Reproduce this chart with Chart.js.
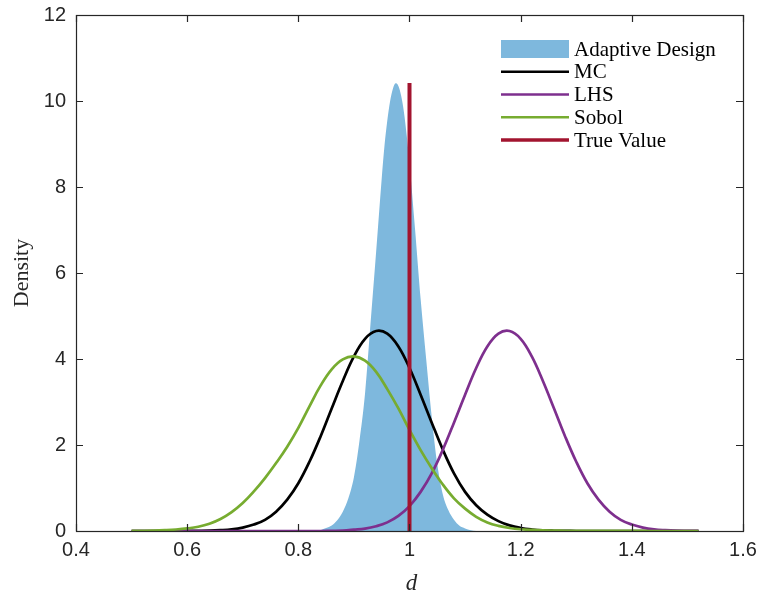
<!DOCTYPE html>
<html>
<head>
<meta charset="utf-8">
<script src="https://cdn.jsdelivr.net/npm/chart.js@4.4.1/dist/chart.umd.min.js"></script>
<style>
  html, body { margin: 0; padding: 0; background: #fff; }
  #wrap { width: 764px; height: 601px; }
</style>
</head>
<body>
<div id="wrap"><canvas id="chart" width="764" height="601"></canvas></div>
<script>
// density estimates of d, sampled on a shared grid
const dGrid = [0.50, 0.52, 0.54, 0.56, 0.58, 0.60, 0.62, 0.64, 0.66, 0.68,
               0.70, 0.72, 0.74, 0.76, 0.78, 0.80, 0.82, 0.84, 0.86, 0.88,
               0.90, 0.92, 0.94, 0.96, 0.98, 1.00, 1.02, 1.04, 1.06, 1.08,
               1.10, 1.12, 1.14, 1.16, 1.18, 1.20, 1.22, 1.24, 1.26, 1.28,
               1.30, 1.32, 1.34, 1.36, 1.38, 1.40, 1.42, 1.44, 1.46, 1.48,
               1.50, 1.52];

const mcDensity = [0, 0, 0, 0, 0.001, 0.002, 0.004, 0.008, 0.02, 0.04,
                   0.08, 0.15, 0.26, 0.45, 0.73, 1.11, 1.61, 2.20, 2.85, 3.49,
                   4.06, 4.47, 4.65, 4.59, 4.29, 3.79, 3.17, 2.52, 1.89, 1.34,
                   0.91, 0.60, 0.38, 0.23, 0.13, 0.07, 0.035, 0.015, 0.006, 0.002,
                   0, 0, 0, 0, 0, 0, 0, 0, 0, 0,
                   0, 0];

const lhsDensity = [0, 0, 0, 0, 0, 0, 0, 0, 0, 0,
                    0, 0, 0, 0, 0, 0, 0, 0, 0.005, 0.01,
                    0.03, 0.055, 0.11, 0.20, 0.35, 0.58, 0.91, 1.34, 1.89, 2.52,
                    3.17, 3.79, 4.29, 4.59, 4.65, 4.47, 4.06, 3.49, 2.85, 2.20,
                    1.61, 1.11, 0.73, 0.45, 0.26, 0.15, 0.08, 0.04, 0.02, 0.008,
                    0.004, 0.002];

const sobolDensity = [0.003, 0.005, 0.01, 0.02, 0.035, 0.06, 0.10, 0.17, 0.28, 0.44,
                      0.65, 0.92, 1.23, 1.58, 1.96, 2.40, 2.90, 3.38, 3.76, 3.99,
                      4.06, 3.96, 3.70, 3.30, 2.85, 2.35, 1.88, 1.46, 1.08, 0.76,
                      0.52, 0.33, 0.20, 0.12, 0.07, 0.04, 0.025, 0.015, 0.01, 0.006,
                      0.005, 0.004, 0.003, 0.002, 0.002, 0.001, 0.001, 0, 0, 0,
                      0, 0];

// adaptive design posterior, finer grid around the peak
const adaptiveGrid = [0.84, 0.85, 0.86, 0.87, 0.88, 0.89, 0.90, 0.91, 0.92, 0.93,
                      0.94, 0.95, 0.955, 0.96, 0.965, 0.97, 0.975, 0.98, 0.985, 0.99,
                      0.995, 1.00, 1.01, 1.02, 1.03, 1.04, 1.05, 1.06, 1.07, 1.08,
                      1.09, 1.10, 1.11, 1.12];
const adaptiveDensity = [0.02, 0.07, 0.13, 0.25, 0.45, 0.76, 1.25, 2.10, 3.20, 4.85,
                         6.50, 8.20, 8.96, 9.54, 9.99, 10.28, 10.41, 10.35, 10.12, 9.74,
                         9.20, 8.56, 7.02, 5.40, 4.00, 2.65, 1.55, 0.85, 0.48, 0.26,
                         0.12, 0.06, 0.02, 0];

const trueValue = 1.0;
const trueLineTop = 10.42;

const xTicks = [0.4, 0.6, 0.8, 1.0, 1.2, 1.4, 1.6];
const xTickLabels = ['0.4', '0.6', '0.8', '1', '1.2', '1.4', '1.6'];
const yTicks = [0, 2, 4, 6, 8, 10, 12];
const yTickLabels = ['0', '2', '4', '6', '8', '10', '12'];

const seriesNames = ['Adaptive Design', 'MC', 'LHS', 'Sobol', 'True Value'];

const C_ADAPT = 'rgb(126,184,221)';
const C_MC = '#000000';
const C_LHS = 'rgb(126,47,142)';
const C_SOBOL = 'rgb(119,172,48)';
const C_TRUE = 'rgb(162,20,47)';
const AXIS = '#262626';

function pairs(xs, ys) {
  return xs.map((x, i) => ({ x: x, y: ys[i] }));
}

function curve(label, xs, ys, color, order) {
  return {
    label: label,
    data: pairs(xs, ys),
    showLine: true,
    borderColor: color,
    borderWidth: 2.7,
    pointRadius: 0,
    tension: 0.4,
    fill: false,
    order: order,
  };
}

// box frame, inward ticks, axis titles
const frame = {
  id: 'frame',
  afterDatasetsDraw(chart) {
    const { ctx, chartArea: a, scales } = chart;
    const tl = 7;
    ctx.save();
    ctx.strokeStyle = AXIS;
    ctx.lineWidth = 1.2;
    ctx.strokeRect(Math.round(a.left) + 0.5, Math.round(a.top) + 0.5,
                   Math.round(a.right - a.left), Math.round(a.bottom - a.top));
    ctx.beginPath();
    for (const v of xTicks) {
      const px = Math.round(scales.x.getPixelForValue(v)) + 0.5;
      ctx.moveTo(px, a.bottom); ctx.lineTo(px, a.bottom - tl);
      ctx.moveTo(px, a.top); ctx.lineTo(px, a.top + tl);
    }
    for (const v of yTicks) {
      const py = Math.round(scales.y.getPixelForValue(v)) + 0.5;
      ctx.moveTo(a.left, py); ctx.lineTo(a.left + tl, py);
      ctx.moveTo(a.right, py); ctx.lineTo(a.right - tl, py);
    }
    ctx.stroke();

    ctx.fillStyle = AXIS;
    ctx.textAlign = 'center';
    ctx.textBaseline = 'middle';
    ctx.font = 'italic 23px "Liberation Serif"';
    ctx.fillText('d', (a.left + a.right) / 2 + 2, 584);
    ctx.translate(22, (a.top + a.bottom) / 2);
    ctx.rotate(-Math.PI / 2);
    ctx.font = '22px "Liberation Serif"';
    ctx.fillText('Density', 0, 0);
    ctx.restore();
  }
};

// legend in the upper right corner of the axes
const cornerLegend = {
  id: 'cornerLegend',
  afterDraw(chart) {
    const { ctx, chartArea: a } = chart;
    const colors = [C_ADAPT, C_MC, C_LHS, C_SOBOL, C_TRUE];
    const x0 = a.right - 242, x1 = a.right - 174, tx = a.right - 169;
    ctx.save();
    ctx.font = '21px "Liberation Serif"';
    ctx.textBaseline = 'middle';
    ctx.textAlign = 'left';
    seriesNames.forEach((name, i) => {
      const cy = a.top + 34 + i * 22.75;
      if (i === 0) {
        ctx.fillStyle = colors[i];
        ctx.fillRect(x0, cy - 9, x1 - x0, 18);
      } else {
        ctx.strokeStyle = colors[i];
        ctx.lineWidth = i === 4 ? 3.5 : 2.7;
        ctx.beginPath();
        ctx.moveTo(x0, cy); ctx.lineTo(x1, cy);
        ctx.stroke();
      }
      ctx.fillStyle = '#000';
      ctx.fillText(name, tx, cy + 1);
    });
    ctx.restore();
  }
};

const chart = new Chart(document.getElementById('chart').getContext('2d'), {
  type: 'scatter',
  data: {
    datasets: [
      {
        label: seriesNames[4],
        data: [{ x: trueValue, y: 0 }, { x: trueValue, y: trueLineTop }],
        showLine: true,
        borderColor: C_TRUE,
        borderWidth: 4,
        pointRadius: 0,
        order: 0,
      },
      curve(seriesNames[3], dGrid, sobolDensity, C_SOBOL, 1),
      curve(seriesNames[2], dGrid, lhsDensity, C_LHS, 2),
      curve(seriesNames[1], dGrid, mcDensity, C_MC, 3),
      {
        label: seriesNames[0],
        data: pairs(adaptiveGrid, adaptiveDensity),
        showLine: true,
        borderWidth: 0,
        borderColor: C_ADAPT,
        backgroundColor: C_ADAPT,
        fill: 'origin',
        pointRadius: 0,
        cubicInterpolationMode: 'monotone',
        order: 4,
      },
    ],
  },
  options: {
    responsive: false,
    animation: false,
    devicePixelRatio: 1,
    layout: { padding: { top: 15, right: 21, bottom: 0, left: 0 } },
    plugins: { legend: { display: false }, tooltip: { enabled: false } },
    scales: {
      x: {
        type: 'linear',
        min: 0.4, max: 1.6,
        afterBuildTicks: s => { s.ticks = xTicks.map(v => ({ value: v })); },
        afterFit: s => { s.height = 70; s.paddingLeft = 0; s.paddingRight = 0; },
        grid: { display: false, drawTicks: false },
        border: { display: false },
        ticks: {
          padding: 7,
          color: AXIS,
          font: { family: '"Liberation Sans"', size: 20 },
          maxRotation: 0,
          callback: (v, i) => xTickLabels[i],
        },
      },
      y: {
        type: 'linear',
        min: 0, max: 12,
        afterBuildTicks: s => { s.ticks = yTicks.map(v => ({ value: v })); },
        // keep the axes box fixed; tick labels may overhang the padding
        afterFit: s => { s.width = 76; s.paddingTop = 0; s.paddingBottom = 0; },
        grid: { display: false, drawTicks: false },
        border: { display: false },
        ticks: {
          padding: 10,
          color: AXIS,
          font: { family: '"Liberation Sans"', size: 20 },
          callback: (v, i) => yTickLabels[i],
        },
      },
    },
  },
  plugins: [frame, cornerLegend],
});
</script>
</body>
</html>
